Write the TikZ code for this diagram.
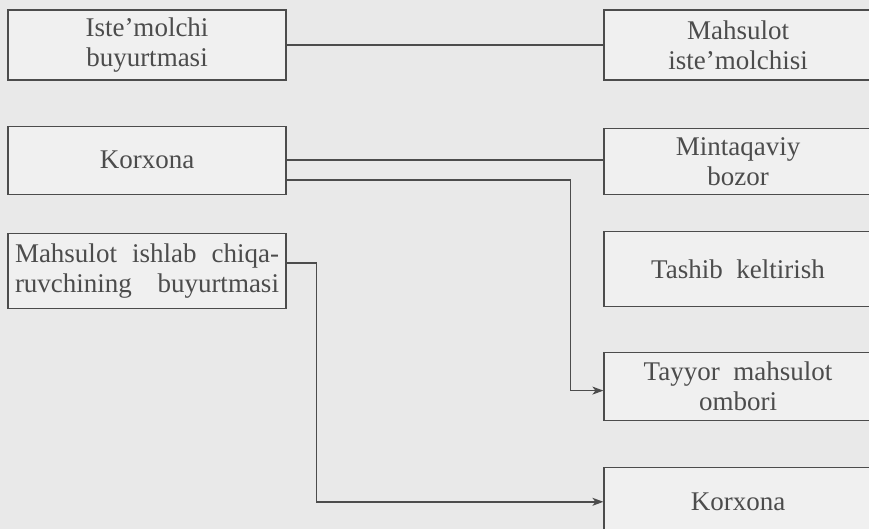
\documentclass[tikz,border=0pt]{standalone}
\usepackage{fontspec}
\setmainfont{Liberation Serif}
\usetikzlibrary{positioning,arrows.meta}
\definecolor{paper}{HTML}{E9E9E9}
\definecolor{boxfill}{HTML}{F0F0F0}
\definecolor{ink}{HTML}{4C4C4C}
\tikzset{
  flowbox/.style={draw=ink,line width=1.2pt,fill=boxfill,text=ink,align=center,inner sep=0pt,minimum width=278pt,minimum height=68pt,font=\fontsize{27}{30}\selectfont},
  rightbox/.style={flowbox,minimum width=268pt},
  flowline/.style={draw=ink,line width=1.4pt},
  flowarr/.style={flowline,-{Stealth[length=11pt,width=8pt,inset=3pt]}}
}

\begin{document}
\begin{tikzpicture}[x=1pt,y=-1pt,node distance=40pt]
  \fill[paper] (0,0) rectangle (869,529);
  \clip (0,0) rectangle (869,529);
  % left column
  \node[flowbox,minimum height=70pt] (consord) at (147,45) {Iste’molchi\\buyurtmasi};
  \node[flowbox,below=45pt of consord] (firm) {Korxona};
  \node[flowbox,minimum height=75pt,below=38pt of firm] (prodord) {\makebox[264pt]{Mahsulot\hfill ishlab\hfill chiqa-}\\\makebox[264pt]{ruvchining\hfill buyurtmasi}};
  % right column
  \node[rightbox,minimum height=70pt] (consumer) at (738,45) {Mahsulot\\iste’molchisi};
  \node[rightbox,minimum height=66pt,below=47pt of consumer] (market) {Mintaqaviy\\bozor};
  \node[rightbox,minimum height=75pt,below=36pt of market] (transp) {Tashib\ \ keltirish};
  \node[rightbox,below=45pt of transp] (store) {Tayyor\ \ mahsulot\\ombori};
  \node[rightbox,below=46pt of store] (plant) {Korxona};
  % links
  \draw[flowline] (consord.east) -- (consumer.west);
  \draw[flowline] (firm.east) -- (firm.east -| market.west);
  \draw[flowarr] ([yshift=-20pt]firm.east) -- ++(284,0) |- ([yshift=-4pt]store.west);
  \draw[flowarr] ([yshift=8pt]prodord.east) -- ++(30,0) |- (plant.west);
\end{tikzpicture}
\end{document}
